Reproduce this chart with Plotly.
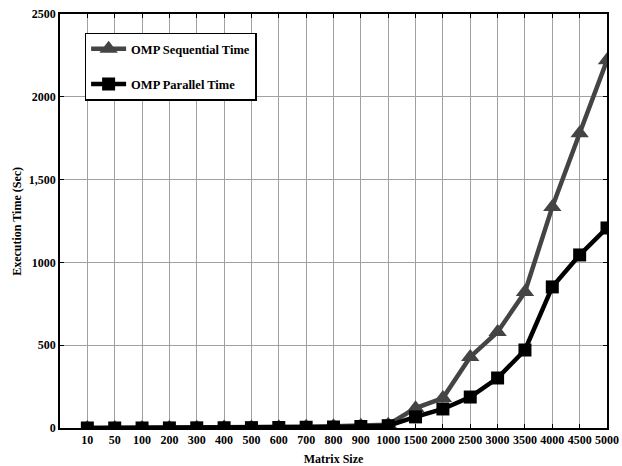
import plotly.graph_objects as go

categories = ["10", "50", "100", "200", "300", "400", "500", "600", "700", "800",
              "900", "1000", "1500", "2000", "2500", "3000", "3500", "4000", "4500", "5000"]
seq_time = [0.01, 0.05, 0.2, 0.8, 1.5, 2.5, 3.5, 5, 7, 10,
            14, 20, 120, 181, 429, 580, 821, 1335, 1780, 2220]
par_time = [0.01, 0.04, 0.1, 0.5, 1, 1.6, 2.2, 3, 4.5, 6,
            9, 14, 67, 115, 187, 302, 471, 852, 1045, 1208]
y_ticks = [0, 500, 1000, 1500, 2000, 2500]
y_tick_labels = ["0", "500", "1000", "1,500", "2000", "2500"]

xs = list(range(len(categories)))
FONT = "Liberation Serif"

fig = go.Figure()
fig.add_trace(go.Scatter(
    x=xs, y=seq_time, mode="lines+markers", name="<b>OMP Sequential Time</b>",
    legendgroup="a",
    line=dict(color="#444444", width=4.5),
    marker=dict(symbol="triangle-up", size=16, color="#444444"),
))
fig.add_trace(go.Scatter(
    x=xs, y=par_time, mode="lines+markers", name="<b>OMP Parallel Time</b>",
    legendgroup="b",
    line=dict(color="#000000", width=4.5),
    marker=dict(symbol="square", size=13, color="#000000"),
))

fig.update_layout(
    width=622, height=466,
    margin=dict(l=60, r=15, t=14, b=38),
    paper_bgcolor="white", plot_bgcolor="white",
    font=dict(family=FONT, color="black", size=12),
    showlegend=True,
    legend=dict(
        x=0.045, y=0.955, xanchor="left", yanchor="top",
        bgcolor="white", bordercolor="black", borderwidth=1.5,
        font=dict(family=FONT, size=12.5, color="black"),
        tracegroupgap=16, itemwidth=35,
    ),
    xaxis=dict(
        range=[-1, 19], tickmode="array", tickvals=xs,
        ticktext=["<b>%s</b>" % c for c in categories],
        showgrid=True, gridcolor="#a0a0a0", gridwidth=0.8,
        showline=True, linecolor="black", linewidth=1.5, mirror="ticks",
        ticks="inside", ticklen=4, tickcolor="black",
        zeroline=False, automargin=False,
        title=dict(text="<b>Matrix Size</b>", font=dict(family=FONT, size=12)),
    ),
    yaxis=dict(
        range=[0, 2500], tickmode="array", tickvals=y_ticks,
        ticktext=["<b>%s</b>" % t for t in y_tick_labels],
        showgrid=True, gridcolor="#a0a0a0", gridwidth=0.8,
        showline=True, linecolor="black", linewidth=1.5, mirror="ticks",
        ticks="inside", ticklen=4, tickcolor="black",
        zeroline=False, automargin=False,
    ),
    annotations=[dict(
        text="<b>Execution Time (Sec)</b>", textangle=-90,
        xref="paper", yref="paper", x=-0.079, y=0.5,
        xanchor="center", yanchor="middle", showarrow=False,
        font=dict(family=FONT, size=12, color="black"),
    )],
)

fig.write_html("out.html", config={"displayModeBar": False},
               post_script="document.body.style.margin='0px';")
